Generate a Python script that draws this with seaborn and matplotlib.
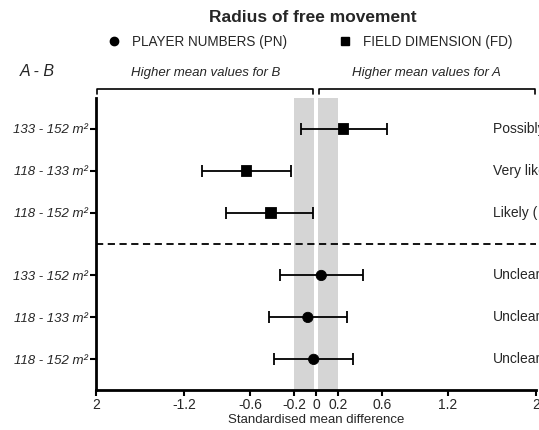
import matplotlib
matplotlib.use("Agg")
import matplotlib.pyplot as plt
import seaborn as sns
import pandas as pd
import numpy as np
from matplotlib.lines import Line2D

sns.set_theme(style="white")
plt.rcParams['font.family'] = ['Liberation Sans', 'DejaVu Sans']

# ---- data ----
row_labels = ["133 - 152 m²", "118 - 133 m²", "118 - 152 m²",
              "133 - 152 m²", "118 - 133 m²", "118 - 152 m²"]
groups = ["FD", "FD", "FD", "PN", "PN", "PN"]
means = [0.245, -0.638, -0.415, 0.048, -0.074, -0.021]
ci_low = [-0.14, -1.033, -0.819, -0.327, -0.427, -0.384]
ci_high = [0.644, -0.23, -0.027, 0.424, 0.283, 0.339]
outcomes = ["Possibly ↑", "Very likely ↓", "Likely (↓)", "Unclear", "Unclear", "Unclear"]
row_pos = [0, 1, 2, 3.5, 4.5, 5.5]
xticks = [-2, -1.2, -0.6, -0.2, 0, 0.2, 0.6, 1.2, 2]
xticklabels = ["2", "-1.2", "-0.6", "-0.2", "0", "0.2", "0.6", "1.2", "2"]

df = pd.DataFrame({"y": row_pos, "mean": means, "lo": ci_low, "hi": ci_high,
                   "group": groups})

fig = plt.figure(figsize=(5.39, 4.30), dpi=100)
ax = fig.add_axes([96/539, 1-390/430, 440/539, 292/430])

# smallest worthwhile change band
ax.axvspan(-0.2, -0.022, color="#d5d5d5", lw=0, zorder=0)
ax.axvspan(0.022, 0.2, color="#d5d5d5", lw=0, zorder=0)

# error bars
ax.errorbar(df["mean"], df["y"],
            xerr=[df["mean"] - df["lo"], df["hi"] - df["mean"]],
            fmt="none", ecolor="black", elinewidth=1.3, capsize=4, capthick=1.3, zorder=2)
sns.scatterplot(data=df, x="mean", y="y", style="group",
                markers={"FD": "s", "PN": "o"}, color="black", s=55,
                edgecolor="black", legend=False, ax=ax, zorder=3)

ax.axhline(2.75, color="black", ls=(0, (4, 2.5)), lw=1.3, zorder=1)

ax.set_xlim(-2, 2)
ax.set_ylim(6.23, -0.73)
ax.set_xticks(xticks)
ax.set_xticklabels(xticklabels, fontsize=10)
ax.set_yticks(row_pos)
ax.set_yticklabels(row_labels, fontsize=9.5, fontstyle="italic")
ax.set_xlabel("Standardised mean difference", fontsize=9.5, labelpad=1)
ax.set_ylabel("")
for s in ["top", "right"]:
    ax.spines[s].set_visible(False)
for s in ["left", "bottom"]:
    ax.spines[s].set_linewidth(2)
    ax.spines[s].set_color("black")
ax.tick_params(axis="both", which="major", direction="out", length=4, width=1.5,
               color="black", pad=2, left=True, bottom=True)

# outcome texts (clipped by figure edge, as in the reference)
for yp, t in zip(row_pos, outcomes):
    ax.text(1.61, yp, t, fontsize=10, va="center", ha="left", clip_on=False)

# brackets
ytop, ybot = -0.94, -0.82
for x0, x1 in [(-1.99, -0.03), (0.03, 1.99)]:
    ax.plot([x0, x0, x1, x1], [ybot, ytop, ytop, ybot], color="black", lw=1.2,
            clip_on=False)
ax.text(-1.0, -1.33, "Higher mean values for B", fontsize=9.5, fontstyle="italic",
        ha="center", va="center")
ax.text(1.0, -1.33, "Higher mean values for A", fontsize=9.5, fontstyle="italic",
        ha="center", va="center")
fig.text(20/539, 1-72/430, "A - B", fontsize=11.5, fontstyle="italic", va="center")

# title and legend
fig.text(0.58, 1-17/430, "Radius of free movement", fontsize=12.5, fontweight="bold",
         ha="center", va="center")
handles = [Line2D([], [], marker="o", color="black", ls="none", markersize=6),
           Line2D([], [], marker="s", color="black", ls="none", markersize=6)]
fig.legend(handles, ["PLAYER NUMBERS (PN)", "FIELD DIMENSION (FD)"], ncol=2,
           loc="center", bbox_to_anchor=(0.575, 1-42/430), frameon=False,
           fontsize=9.75, handletextpad=0.8, columnspacing=3.8, handlelength=1.0)

fig.savefig("out.png", dpi=100)
